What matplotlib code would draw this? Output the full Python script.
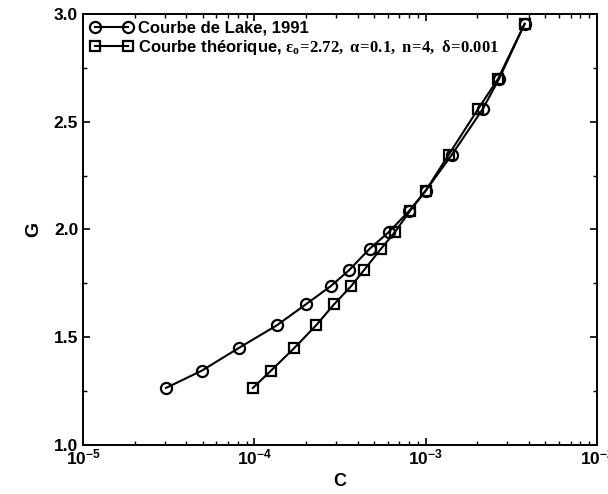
import matplotlib
matplotlib.use("Agg")
import matplotlib.pyplot as plt
from matplotlib.ticker import MultipleLocator, LogLocator

plt.rcParams['font.family'] = ['Liberation Sans', 'DejaVu Sans']
plt.rcParams['font.weight'] = 'bold'
plt.rcParams['mathtext.fontset'] = 'custom'
plt.rcParams['mathtext.rm'] = 'Liberation Serif'
plt.rcParams['mathtext.it'] = 'Liberation Serif'
plt.rcParams['mathtext.bf'] = 'Liberation Sans:bold'

# G levels shared by both curves
G = [1.265, 1.345, 1.45, 1.555, 1.653, 1.737, 1.81, 1.91, 1.99,
     2.086, 2.18, 2.346, 2.558, 2.698, 2.954]
# Courbe de Lake
c_lake = [3.05e-5, 4.93e-5, 8.1e-5, 1.35e-4, 2.0e-4, 2.79e-4, 3.56e-4,
          4.7e-4, 6.13e-4, 8.0e-4, 1.0e-3, 1.42e-3, 2.15e-3, 2.68e-3, 3.78e-3]
# Courbe theorique
c_theo = [9.8e-5, 1.25e-4, 1.71e-4, 2.29e-4, 2.92e-4, 3.67e-4, 4.35e-4,
          5.48e-4, 6.64e-4, 8.1e-4, 1.0e-3, 1.36e-3, 2.02e-3, 2.64e-3, 3.78e-3]

fig = plt.figure(figsize=(6.08, 4.94), dpi=100)
ax = fig.add_axes([0.1365, 0.099, 0.8455, 0.873])

ax.plot(c_lake, G, '-o', color='black', lw=1.5, ms=8, mfc='none', mew=1.6,
        label='Courbe de Lake, 1991')
ax.plot(c_theo, G, '-s', color='black', lw=1.5, ms=6.5, mfc='none', mew=1.6,
        label=r'Courbe théorique, $\epsilon_o\!=\!2.72,\ \alpha\!=\!0.1,\ n\!=\!4,\ \delta\!=\!0.001$')

ax.set_xscale('log')
ax.set_xlim(1e-5, 1e-2)
ax.set_ylim(1.0, 3.0)
ax.yaxis.set_major_locator(MultipleLocator(0.5))
ax.yaxis.set_minor_locator(MultipleLocator(0.25))
ax.yaxis.set_major_formatter(plt.FormatStrFormatter('%.1f'))
ax.xaxis.set_minor_locator(LogLocator(base=10, subs=range(2, 10)))

ax.tick_params(which='both', direction='in', top=True, right=True, labelsize=12.5)
ax.tick_params(axis='x', pad=2)
ax.tick_params(which='major', length=5, width=1.2)
ax.tick_params(which='minor', length=3, width=1)
for s in ax.spines.values():
    s.set_linewidth(1.4)

ax.set_xlabel('C', fontsize=13, fontweight='bold', labelpad=4)
ax.set_ylabel('G', fontsize=14, fontweight='bold', labelpad=8)

leg = ax.legend(loc='upper left', numpoints=2, fontsize=12, frameon=False,
                borderaxespad=0.2, handlelength=2.6,
                handletextpad=0.3, borderpad=0.2, labelspacing=0.15)

fig.savefig('out.png', dpi=100)
